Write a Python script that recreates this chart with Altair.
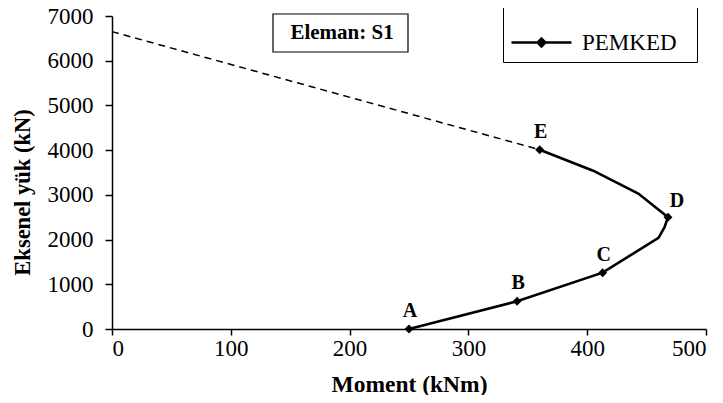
import altair as alt
import pandas as pd

# Main interaction curve (PEMKED), in drawing order
curve_moment = [250, 341, 413, 460, 465, 468, 443, 405, 360]
curve_load = [0, 620, 1260, 2040, 2270, 2500, 3030, 3540, 4010]

# Labelled points A..E
point_names = ["A", "B", "C", "D", "E"]
point_moment = [250, 341, 413, 468, 360]
point_load = [0, 620, 1260, 2500, 4010]

# Dashed extension from E to the axis
dash_moment = [0, 360]
dash_load = [6650, 4010]

series_name = "PEMKED"
box_text = "Eleman: S1"

x_ticks = [0, 100, 200, 300, 400, 500]
y_ticks = [0, 1000, 2000, 3000, 4000, 5000, 6000, 7000]

curve_df = pd.DataFrame({"M": curve_moment, "P": curve_load,
                         "i": list(range(len(curve_moment))),
                         "s": [series_name] * len(curve_moment)})
pts_df = pd.DataFrame({"M": point_moment, "P": point_load, "name": point_names})
dash_df = pd.DataFrame({"M": dash_moment, "P": dash_load})

FONT = "Liberation Serif"

xscale = alt.Scale(domain=[0, 500], nice=False, zero=False)
yscale = alt.Scale(domain=[0, 7000], nice=False, zero=False)

xaxis = alt.Axis(title="Moment (kNm)", values=x_ticks, grid=False, format="d",
                 labelFont=FONT, labelFontSize=23, labelColor="black",
                 titleFont=FONT, titleFontSize=23.5, titleFontWeight="bold",
                 titleColor="black", domainColor="black", domainWidth=1.5,
                 tickColor="black", tickWidth=1.5, tickSize=6, labelPadding=2,
                 titleY=55, titleBaseline="middle")
yaxis = alt.Axis(title="Eksenel yük (kN)", values=y_ticks, grid=False, format="d",
                 labelFont=FONT, labelFontSize=23, labelColor="black",
                 titleFont=FONT, titleFontSize=22.5, titleFontWeight="bold",
                 titleColor="black", domainColor="black", domainWidth=1.5,
                 tickColor="black", tickWidth=1.5, tickSize=7, labelPadding=12,
                 titleX=-90, titleY=176, titleAngle=270, titleAlign="center",
                 titleBaseline="middle")

x = alt.X("M:Q", scale=xscale, axis=xaxis)
y = alt.Y("P:Q", scale=yscale, axis=yaxis)

dash = alt.Chart(dash_df).mark_line(color="black", strokeWidth=1.5,
                                    strokeDash=[7, 5]).encode(x=x, y=y)

line = alt.Chart(curve_df).mark_line(strokeWidth=2.6).encode(
    x=x, y=y, order="i:Q",
    color=alt.Color("s:N", scale=alt.Scale(range=["black"]),
                    legend=alt.Legend(
                        title="M", titleOrient="right", titleFontSize=12,
                        titlePadding=1, titleFont=FONT, titleColor="white",
                        orient="none", legendX=391, legendY=-12,
                        strokeColor="black", fillColor="white", padding=7,
                        symbolType="M-1,0L1,0M0,-0.13L0.13,0L0,0.13L-0.13,0Z",
                        symbolSize=3600, symbolStrokeWidth=2.5,
                        symbolFillColor="black", symbolStrokeColor="black",
                        labelFont=FONT, labelFontSize=23, labelColor="black",
                        labelOffset=9, cornerRadius=0)))

markers = alt.Chart(pts_df).mark_point(shape="diamond", filled=True, size=80,
                                       color="black", opacity=1).encode(x=x, y=y)

labels_main = alt.Chart(pts_df).transform_filter(
    alt.datum.name != "D").mark_text(font=FONT, fontSize=20, fontWeight="bold",
                                      color="black", dy=-18, dx=1).encode(
    x=x, y=y, text="name:N")
labels_d = alt.Chart(pts_df).transform_filter(
    alt.datum.name == "D").mark_text(font=FONT, fontSize=20, fontWeight="bold",
                                      color="black", dy=-16, dx=9).encode(
    x=x, y=y, text="name:N")

box = alt.Chart(pd.DataFrame({"t": [box_text]})).mark_rect(
    fill="white", stroke="black", strokeWidth=1.2).encode(
    x=alt.value(161), x2=alt.value(296), y=alt.value(-2), y2=alt.value(36))
box_label = alt.Chart(pd.DataFrame({"t": [box_text]})).mark_text(
    font=FONT, fontSize=21, fontWeight="bold", color="black").encode(
    x=alt.value(230), y=alt.value(17), text="t:N")

chart = alt.layer(dash, line, markers, labels_main, labels_d, box, box_label).properties(
    width=594, height=313,
    padding={"left": 104, "top": 8, "right": 9, "bottom": 66},
    autosize=alt.AutoSizeParams(type="none"),
    background="white",
).configure_view(stroke=None)

chart.save("out.html", embed_options={"renderer": "svg", "actions": False})
